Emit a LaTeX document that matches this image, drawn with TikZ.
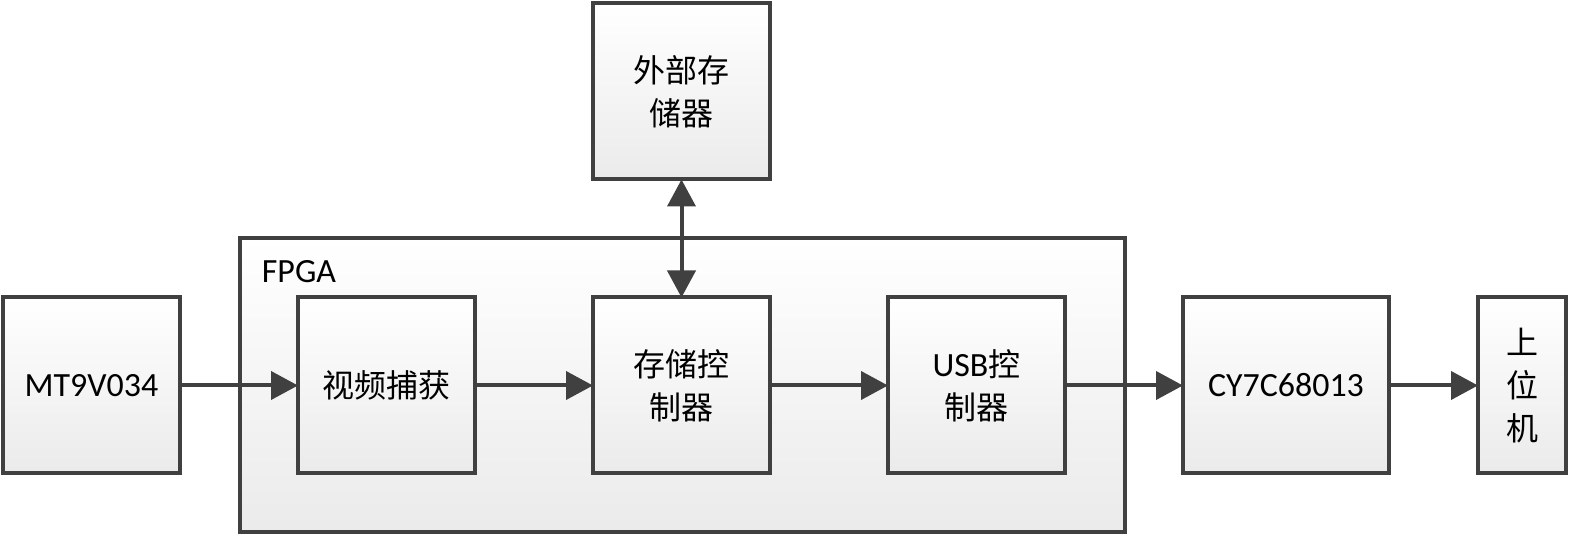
\documentclass[tikz,border=0pt]{standalone}
\usepackage{fontspec}
\setmainfont{Carlito}[Scale=1.06]
\newfontfamily\cjk{Noto Sans CJK SC}
\usetikzlibrary{positioning,arrows.meta}
\definecolor{edge}{HTML}{404040}

\begin{document}
\begin{tikzpicture}[
    x=0.5pt, y=0.5pt,
    node distance=59pt and 59pt,
    font=\fontsize{16}{21.5}\selectfont,
    blk/.style={draw=edge, line width=2pt, outer sep=0pt, align=center, minimum width=88.5pt, minimum height=88pt, top color=white, bottom color=black!8},
    frame/.style={blk, minimum width=442.5pt, minimum height=147pt},
    line/.style={-{Triangle[length=13.5pt, width=14pt]}, line width=2pt, draw=edge},
    dline/.style={line, {Triangle[length=13.5pt, width=14pt]}-{Triangle[length=13.5pt, width=14pt]}}
]
\useasboundingbox (0,0) rectangle (1571,536);

% FPGA frame first, so the blocks sit on top of it
\node[frame] (fpga) at (682,151) {};
\node[anchor=north west, inner sep=0pt] (fpgatag) at ([xshift=11pt, yshift=-11pt]fpga.north west) {FPGA};

\node[blk] (cam) at (91.5,150.5) {MT9V034};
\node[blk, right=of cam] (grab) {\cjk 视频捕获};
\node[blk, right=of grab] (memctl) {\cjk 存储控\\\cjk 制器};
\node[blk, right=of memctl] (usbctl) {USB{\cjk 控}\\\cjk 制器};
\node[blk, right=of usbctl, minimum width=103pt] (cy) {CY7C68013};
\node[blk, right=44.5pt of cy, minimum width=44pt] (host) {\cjk 上\\\cjk 位\\\cjk 机};
\node[blk, above=of memctl] (extmem) {\cjk 外部存\\\cjk 储器};

\draw[line] (cam) -- (grab);
\draw[line] (grab) -- (memctl);
\draw[line] (memctl) -- (usbctl);
\draw[line] (usbctl) -- (cy);
\draw[line] (cy) -- (host);
\draw[dline] (extmem) -- (memctl);
\end{tikzpicture}
\end{document}
